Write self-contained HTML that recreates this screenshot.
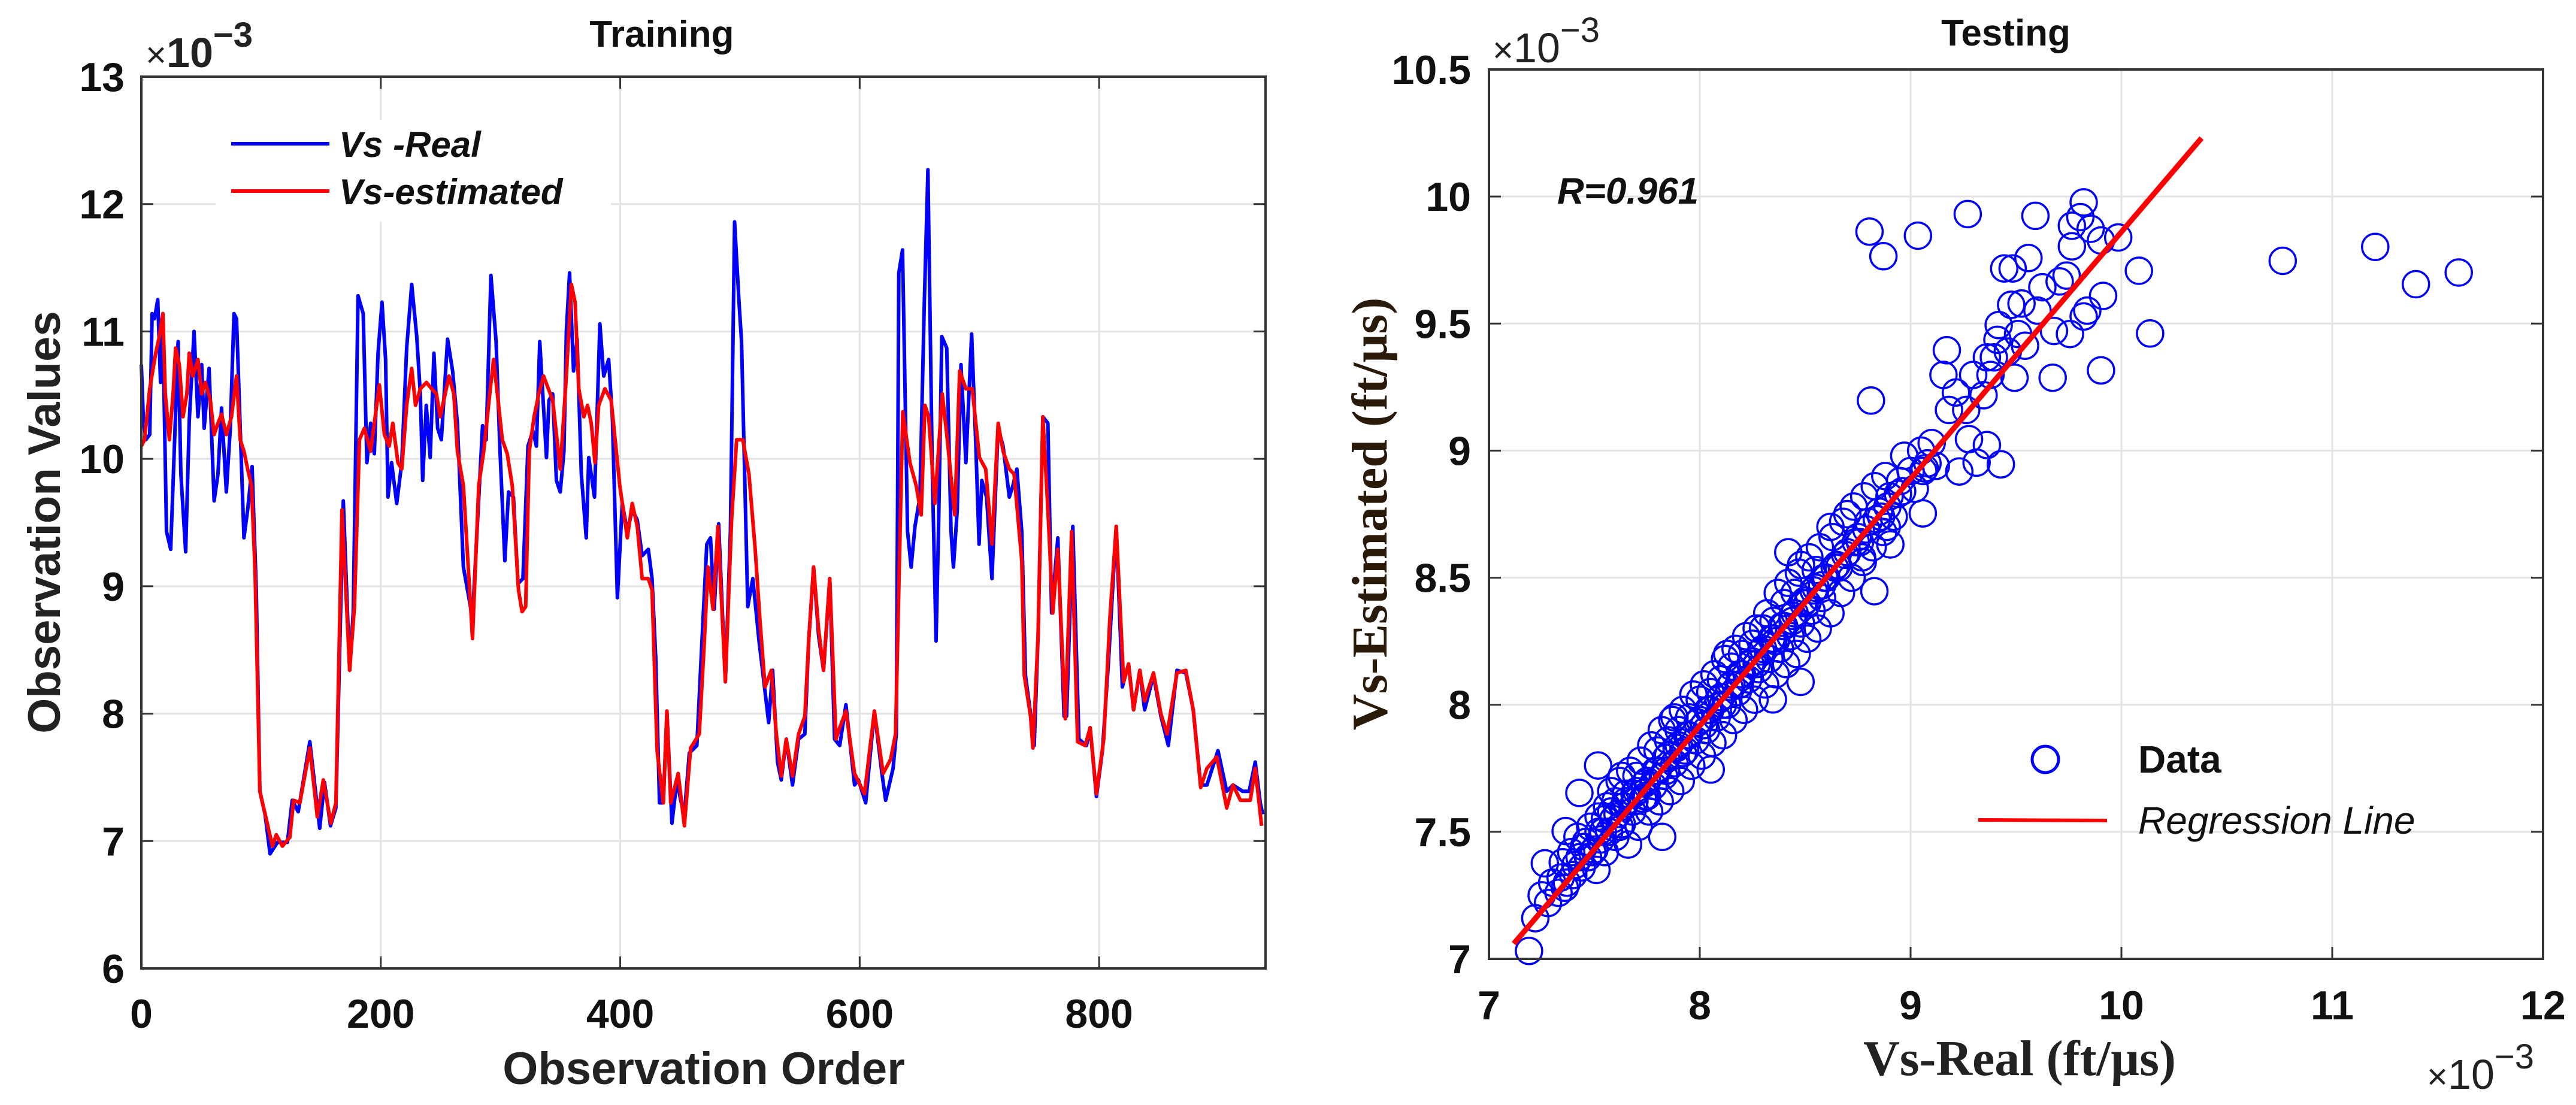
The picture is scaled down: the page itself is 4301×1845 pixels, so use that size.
<!DOCTYPE html>
<html><head><meta charset="utf-8">
<style>
html,body{margin:0;padding:0;background:#fff;}
svg{display:block;font-family:"Liberation Sans",Arial,sans-serif;}
</style></head>
<body>
<svg id="fig" width="4301" height="1845" viewBox="0 0 4301 1845" xmlns="http://www.w3.org/2000/svg">
  <rect width="4301" height="1845" fill="#fff"/>
  <g id="left"></g>
  <g id="right"></g>
</svg>
<script>
// ---------- Training chart data ----------
const realIdx = [0,1.6,3.7,7,9,11,13.7,16,18,21,24.5,27.6,30.7,33,37,40,44,47.3,50.4,52.5,56.6,60.8,64,67,71,74.3,77.4,79.5,82.6,85.7,88.8,92.5,96,99,103.3,107.5,113.7,122,126,131,140.7,149,153,158,162.5,168.7,174,177,181,185.3,188.4,191.5,194.6,197.7,201,204,206,209,213.3,217.5,221.6,225.8,230,233,235,238,241.3,244.4,247.5,250.6,255.8,260,264,269,276.6,285,288,292,296.3,299.4,303.6,306.7,310.8,314.6,318.7,322.9,327,330,332.8,335.3,338.4,340.5,343.6,346.7,349.9,353,355,357.7,361,364,367.5,371.6,373.7,378.5,383,386.2,390.3,393.4,397.6,401.7,405.9,410,414.2,418.3,423.5,426.6,429.7,432.8,436,439,443.2,447.4,450.5,453.6,457.7,464,468,472.3,475.4,478.5,482.2,487.8,492,495.5,499.2,501.3,506.5,510.7,515.9,520,524,527.3,531.4,534.5,538.7,543.9,549,554.2,557.4,561.5,565.7,569.8,575,579,583.3,588.5,595.7,598.9,605,612.3,618.6,621.7,627.9,630.6,632.7,635.8,640,643,646.2,650.3,654,657,660.7,663.8,666,668.6,672.7,676.3,678.3,681.5,684.6,688.7,693.5,697,699.7,702,706,710.5,715.7,719.8,725,728,731.3,735.4,738.5,743.7,745.8,749,753,757.2,760.3,765.5,770.7,772.8,778,783.1,789.4,792.5,797.7,802.8,808,814.3,819.4,824.6,828.8,834,838,845.4,851.6,857.8,865,872.4,878.6,884.8,890,899.3,906.6,911.8,920,925.3,930.4,934.6,936.7];
const realVal = [10.74,10.33,10.15,10.19,11.14,11.1,11.25,10.6,11.0,9.43,9.29,10.1,10.92,9.88,9.27,10.3,11.0,10.33,10.74,10.24,10.71,9.67,9.88,10.4,9.74,10.24,11.14,11.1,10.24,9.38,9.6,9.94,8.97,7.39,7.21,6.9,6.99,6.99,7.32,7.23,7.78,7.1,7.46,7.12,7.26,9.67,8.34,8.8,11.28,11.14,9.97,10.28,10.04,10.83,11.23,10.78,9.7,9.97,9.65,9.97,10.87,11.37,10.96,10.51,9.83,10.42,10.01,10.83,10.24,10.15,10.94,10.69,10.28,9.15,8.75,10.26,10.15,11.44,10.92,10.1,9.2,9.74,9.7,9.02,9.06,10.1,10.22,10.1,10.92,10.51,10.01,10.46,10.51,9.83,9.74,10.06,11.0,11.46,10.69,10.94,9.88,9.38,10.01,9.7,11.06,10.65,10.78,10.33,8.91,9.65,9.43,9.6,9.52,9.24,9.29,9.06,8.43,7.3,7.3,8.02,7.14,7.48,7.32,7.21,7.69,7.75,8.52,9.33,9.38,8.82,9.49,8.25,9.43,11.86,11.23,10.92,8.84,9.06,8.57,8.25,7.93,8.34,7.62,7.48,7.8,7.44,7.8,7.84,8.57,9.15,8.61,8.34,9.06,7.8,7.75,8.07,7.44,7.48,7.3,8.02,7.53,7.32,7.57,7.84,11.46,11.64,9.43,9.15,9.47,9.7,11.23,12.27,9.88,8.57,9.52,10.96,10.87,9.43,9.15,9.6,10.74,9.97,10.98,10.1,9.33,9.83,9.7,9.06,10.24,10.1,9.7,9.79,9.92,9.43,8.3,7.93,7.75,8.61,10.33,10.28,8.79,9.38,7.98,7.98,9.47,7.8,7.75,7.89,7.35,7.71,8.43,9.47,8.21,8.39,8.03,8.34,8.03,8.3,7.98,7.75,8.34,8.32,8.03,7.44,7.44,7.71,7.39,7.44,7.39,7.39,7.62,7.3,7.21];
const estIdx = [0,2.7,7,12,15,18,20,23.4,26.5,28.6,31.7,34.8,38,40,43,47.3,50.4,53.5,57.7,60.8,64,67,71,75.3,79.5,82.6,85.7,88.8,92,95,99,104.4,109.5,112.7,117.8,124,127.2,132.4,140.7,147,152,158.3,162.5,167.6,174,178,182.2,186.3,191.5,198.8,203,207,210,214.3,217.5,221.6,225.8,229,233,238.2,242.4,246.5,249.6,253.8,257,261,264,269,276.6,281.8,286,291,294.2,298.4,301.5,305.6,309.8,315,318,321,324,328,332,336,343.6,349.9,355,359.2,362.3,365.4,369.6,372.7,375.8,378.9,382,387.2,392.4,399.6,405.9,410,414.2,418.3,423.5,426.6,430.8,436,439,442.2,448.4,453.6,458.8,466,470,473.3,477.5,481.6,487.8,493,497.2,502.4,507.5,512.7,516.9,521,526.2,530.4,534.5,538.7,543.9,549,554.2,557.4,561.5,565.7,569.8,575,580.2,583.3,588.5,595.7,604,612.3,619.6,625.8,630,636,642,647.2,651.4,654.5,657.6,662.8,669,673.2,679.4,683.5,688.7,694,700,705.3,710.5,715.7,719.8,725,729,735.4,737.5,742.7,744.7,749,753,757.2,761.3,765.5,771.7,777,782,788.3,792.5,797.7,803.9,809,814.3,820.5,824.6,828.8,834,838,845.4,851.6,856.8,865,872.4,878.6,884.8,890,898.3,906.6,911.8,918,926.3,930.4,935.7];
const estVal = [10.1,10.15,10.55,10.83,10.96,11.14,10.51,10.15,10.51,10.87,10.74,10.33,10.51,10.83,10.65,10.78,10.51,10.6,10.46,10.19,10.28,10.35,10.19,10.33,10.65,10.15,10.06,9.92,9.79,9.11,7.39,7.17,6.96,7.05,6.96,7.03,7.32,7.3,7.73,7.19,7.48,7.14,7.3,9.6,8.34,8.84,10.15,10.24,10.06,10.58,10.19,10.1,10.28,9.97,9.92,10.42,10.71,10.42,10.55,10.6,10.55,10.51,10.33,10.51,10.65,10.51,10.06,9.79,8.59,9.79,10.06,10.51,10.78,10.42,10.15,10.04,9.79,8.97,8.8,8.84,10.06,10.33,10.51,10.65,10.46,9.92,10.65,11.37,11.23,10.55,10.33,10.42,10.28,9.97,10.42,10.55,10.46,9.79,9.38,9.65,9.47,9.06,9.06,8.97,7.71,7.3,8.02,7.3,7.53,7.12,7.73,7.84,8.52,9.15,8.82,9.47,8.25,9.52,10.15,10.15,9.88,9.29,8.71,8.21,8.34,7.84,7.51,7.8,7.51,7.84,7.98,8.57,9.15,8.66,8.34,9.06,7.8,7.89,8.02,7.53,7.37,8.02,7.53,7.64,7.84,10.37,9.97,9.79,9.56,10.42,10.33,9.65,10.51,10.15,9.56,10.69,10.55,10.55,10.01,9.92,9.33,10.28,10.06,9.92,9.88,9.2,8.3,7.98,7.73,8.61,10.33,9.6,8.79,9.29,7.96,9.43,7.78,7.75,7.89,7.37,7.8,8.75,9.47,8.25,8.39,8.03,8.34,8.1,8.32,8.0,7.84,8.32,8.34,8.03,7.42,7.57,7.66,7.26,7.44,7.32,7.32,7.57,7.12];
const leftXTicks = [0,200,400,600,800];
const leftYTicks = [6,7,8,9,10,11,12,13];

// ---------- Testing chart data ----------
const scatX = [8.805,8.871,9.035,9.271,9.592,9.821,9.765,9.805,9.854,9.765,9.903,9.985,10.083,10.765,11.204,11.397,11.6,10.136,9.903,9.674,9.493,8.812,9.172,9.156,9.297,9.379,9.395,9.412,9.418,9.444,9.484,9.559,9.477,9.526,9.602,9.625,9.707,9.74,9.68,9.756,9.821,9.838,9.913,9.51,9.543,9.461,9.362,9.182,9.264,9.215,9.346,9.277,9.362,9.428,9.313,9.231,9.067,9.058,8.904,8.887,8.828,8.773,8.478,8.347,8.052,7.822,7.429,7.518,7.265,7.364,7.19,
7.22,7.25,7.28,7.30,7.33,7.35,7.37,7.39,7.40,7.42,7.44,7.45,7.47,7.48,7.50,7.51,7.52,7.53,7.55,7.56,7.57,7.58,7.60,7.61,7.62,7.63,7.65,7.66,7.67,7.68,7.70,7.71,7.72,7.73,7.75,7.76,7.77,7.78,7.80,7.81,7.82,7.83,7.85,7.86,7.87,7.88,7.90,7.91,7.92,7.93,7.95,7.96,7.97,7.98,8.00,8.01,8.02,8.03,8.05,8.06,8.07,8.08,8.10,8.11,8.12,8.13,8.15,8.16,8.17,8.18,8.20,8.21,8.22,8.23,8.25,8.26,8.27,8.28,8.30,8.31,8.32,8.33,8.35,8.36,8.37,8.38,8.40,8.41,8.42,8.43,8.45,8.46,8.47,8.48,8.50,8.51,8.52,8.53,8.55,8.56,8.57,8.58,8.60,8.62,8.63,8.65,8.67,8.68,8.70,8.72,8.73,8.75,8.77,8.78,8.80,8.82,8.83,8.85,8.87,8.88,8.90,8.92,8.95,8.97,9.00,9.02,9.05,9.08,9.10,9.12,
7.55,7.65,7.75,7.85,7.95,8.05,8.15,8.25,8.35,8.45,8.55,8.2,8.3,8.4,8.1,7.9,7.7,8.48,8.42,8.62,8.7,7.6,7.8,8.0,7.52,7.58,
7.34,7.41,7.46,7.54,7.59,7.64,7.69,7.74,7.79,7.84,7.89,7.94,7.99,8.04,8.09,8.14,8.19,8.24,8.29,8.34,8.39,8.44,8.49,8.54,8.59,8.64,8.69,8.74,8.79,8.84,8.89,8.94,7.36,7.43,7.49,7.57,7.62,7.69,7.74,7.84,7.92,8.02,8.11,8.19,8.27,8.36,8.44,8.51,8.58,8.66,8.76,8.86,8.96,9.06,7.63,7.88,8.13];
const scatY = [9.862,9.765,9.846,9.931,9.924,9.977,9.885,9.919,9.873,9.804,9.827,9.839,9.708,9.747,9.802,9.655,9.701,9.461,9.316,9.287,9.287,9.197,9.395,9.298,9.298,9.298,9.367,9.436,9.494,9.717,9.717,9.758,9.574,9.579,9.551,9.643,9.666,9.689,9.471,9.459,9.528,9.551,9.609,9.459,9.413,9.39,9.367,9.16,9.16,9.229,9.218,9.045,9.022,8.946,8.953,8.918,8.93,8.753,8.631,8.7,8.447,8.562,8.09,8.021,7.745,7.48,7.653,7.761,7.376,7.503,7.031,
7.16,7.25,7.22,7.30,7.26,7.38,7.30,7.42,7.33,7.48,7.36,7.44,7.40,7.52,7.43,7.35,7.56,7.47,7.42,7.60,7.50,7.66,7.48,7.57,7.70,7.53,7.62,7.45,7.74,7.58,7.66,7.52,7.78,7.63,7.70,7.58,7.84,7.68,7.74,7.62,7.90,7.72,7.80,7.66,7.94,7.77,7.84,7.70,7.98,7.82,7.88,7.76,8.04,7.86,7.94,7.80,8.08,7.90,7.98,7.85,8.12,7.95,8.03,7.88,8.18,8.00,8.08,7.94,8.22,8.05,8.12,7.98,8.27,8.10,8.17,8.02,8.30,8.14,8.22,8.08,8.36,8.18,8.26,8.12,8.44,8.22,8.31,8.16,8.48,8.27,8.36,8.20,8.52,8.32,8.41,8.26,8.58,8.37,8.46,8.30,8.62,8.42,8.50,8.36,8.66,8.55,8.44,8.72,8.60,8.50,8.78,8.66,8.58,8.82,8.72,8.62,8.86,8.76,8.68,8.90,8.82,8.74,8.88,8.98,8.92,8.85,9.00,8.95,9.03,8.94,
7.55,7.65,7.64,7.86,7.95,8.05,8.15,8.24,8.33,8.44,8.53,8.2,8.3,8.4,8.1,7.9,7.72,8.55,8.6,8.7,8.75,7.62,7.82,8.02,7.5,7.58,
7.32,7.37,7.46,7.50,7.55,7.60,7.65,7.69,7.74,7.79,7.83,7.88,7.93,7.98,8.02,8.07,8.12,8.16,8.21,8.26,8.31,8.35,8.40,8.45,8.50,8.54,8.59,8.64,8.69,8.73,8.78,8.83,7.28,7.40,7.42,7.50,7.52,7.62,7.64,7.74,7.81,7.92,8.00,8.08,8.16,8.25,8.33,8.40,8.47,8.54,8.64,8.74,8.84,8.92,7.72,7.95,8.20];
const regX = [7.118,10.38];
const regY = [7.06,10.23];
const rightXTicks = [7,8,9,10,11,12];
const rightYTicks = [7,7.5,8,8.5,9,9.5,10,10.5];

const NS = "http://www.w3.org/2000/svg";
function mk(parent, tag, attrs, text){
  const e = document.createElementNS(NS, tag);
  for (const k in attrs) e.setAttribute(k, attrs[k]);
  if (text !== undefined) e.textContent = text;
  parent.appendChild(e);
  return e;
}

// ====== LEFT ======
const L = document.getElementById('left');
const lx0 = 236, lx1 = 2113, ly0 = 128, ly1 = 1617;
const lxMin = 0, lxMax = 939, lyMin = 6, lyMax = 13;
const lX = v => lx0 + (v - lxMin) / (lxMax - lxMin) * (lx1 - lx0);
const lY = v => ly1 - (v - lyMin) / (lyMax - lyMin) * (ly1 - ly0);

leftYTicks.forEach(t => {
  const g = mk(L, 'line', {x1:lx0, x2:lx1, y1:lY(t), y2:lY(t), stroke:'#e3e3e3', 'stroke-width':3});
  
  
  const tk = mk(L, 'line', {x1:lx0, x2:lx0+20, y1:lY(t), y2:lY(t), stroke:'#333', 'stroke-width':3});
  
  
  const tk2 = mk(L, 'line', {x1:lx1-20, x2:lx1, y1:lY(t), y2:lY(t), stroke:'#333', 'stroke-width':3});
  
  
  const lb = mk(L, 'text', {x:208, y:lY(t)+24, 'text-anchor':'end', 'font-size':68, 'font-weight':'bold', fill:'#111'}, String(t));
  
  
});
leftXTicks.forEach(t => {
  const g = mk(L, 'line', {x1:lX(t), x2:lX(t), y1:ly0, y2:ly1, stroke:'#e3e3e3', 'stroke-width':3});
  
  
  const tk = mk(L, 'line', {x1:lX(t), x2:lX(t), y1:ly1-20, y2:ly1, stroke:'#333', 'stroke-width':3});
  
  
  const tk2 = mk(L, 'line', {x1:lX(t), x2:lX(t), y1:ly0, y2:ly0+20, stroke:'#333', 'stroke-width':3});
  
  
  const lb = mk(L, 'text', {x:lX(t), y:1716, 'text-anchor':'middle', 'font-size':68, 'font-weight':'bold', fill:'#111'}, String(t));
  
  
});

function linePath(xs, ys, fx, fy){
  return xs.map((v,i) => (i? 'L':'M') + fx(v).toFixed(1) + ' ' + fy(ys[i]).toFixed(1)).join(' ');
}
const bl = mk(L, 'path', {d:linePath(realIdx, realVal, lX, lY), fill:'none', stroke:'#0000ff', 'stroke-width':6, 'stroke-linejoin':'round'});


const rl = mk(L, 'path', {d:linePath(estIdx, estVal, lX, lY), fill:'none', stroke:'#ff0000', 'stroke-width':6, 'stroke-linejoin':'round'});



const lbox = mk(L, 'rect', {x:lx0, y:ly0, width:lx1-lx0, height:ly1-ly0, fill:'none', stroke:'#333', 'stroke-width':4});



// legend
const lg = mk(L, 'g', {});


const lgb = mk(lg, 'rect', {x:360, y:200, width:660, height:170, fill:'#fff'});


const le1 = mk(lg, 'line', {x1:386, x2:550, y1:240, y2:240, stroke:'#0000ff', 'stroke-width':6});


const lt1 = mk(lg, 'text', {x:566, y:262, 'font-size':60, 'font-weight':'bold', 'font-style':'italic', fill:'#111'}, 'Vs -Real');


const le2 = mk(lg, 'line', {x1:386, x2:550, y1:319, y2:319, stroke:'#ff0000', 'stroke-width':6});


const lt2 = mk(lg, 'text', {x:566, y:341, 'font-size':60, 'font-weight':'bold', 'font-style':'italic', fill:'#111'}, 'Vs-estimated');



const lt = mk(L, 'text', {x:1105, y:78, 'text-anchor':'middle', 'font-size':62, 'font-weight':'bold', fill:'#111'}, 'Training');


const lxl = mk(L, 'text', {x:1175, y:1810, 'text-anchor':'middle', 'font-size':76, 'font-weight':'bold', fill:'#222'}, 'Observation Order');


const lyl = mk(L, 'text', {x:0, y:0, 'text-anchor':'middle', 'font-size':76, 'font-weight':'bold', fill:'#222', transform:'translate(100,872) rotate(-90)'}, 'Observation Values');


const lexp = mk(L, 'text', {x:243, y:112, 'font-size':70, fill:'#222'});


lexp.innerHTML = '<tspan font-size="60">×</tspan><tspan font-weight="bold">10</tspan><tspan dy="-34" font-weight="bold" font-size="58">−3</tspan>';

// ====== RIGHT ======
const R = document.getElementById('right');
const rx0 = 2486, rx1 = 4246, ry0 = 116, ry1 = 1601;
const rX = v => rx0 + (v - 7) / (12 - 7) * (rx1 - rx0);
const rY = v => ry1 - (v - 7) / (10.5 - 7) * (ry1 - ry0);

rightYTicks.forEach(t => {
  const g = mk(R, 'line', {x1:rx0, x2:rx1, y1:rY(t), y2:rY(t), stroke:'#e3e3e3', 'stroke-width':3});
  
  
  const tk = mk(R, 'line', {x1:rx0, x2:rx0+20, y1:rY(t), y2:rY(t), stroke:'#333', 'stroke-width':3});
  
  
  const tk2 = mk(R, 'line', {x1:rx1-20, x2:rx1, y1:rY(t), y2:rY(t), stroke:'#333', 'stroke-width':3});
  
  
  const lb = mk(R, 'text', {x:2456, y:rY(t)+24, 'text-anchor':'end', 'font-size':68, 'font-weight':'bold', fill:'#111'}, String(t));
  
  
});
rightXTicks.forEach(t => {
  const g = mk(R, 'line', {x1:rX(t), x2:rX(t), y1:ry0, y2:ry1, stroke:'#e3e3e3', 'stroke-width':3});
  
  
  const tk = mk(R, 'line', {x1:rX(t), x2:rX(t), y1:ry1-20, y2:ry1, stroke:'#333', 'stroke-width':3});
  
  
  const lb = mk(R, 'text', {x:rX(t), y:1702, 'text-anchor':'middle', 'font-size':68, 'font-weight':'bold', fill:'#111'}, String(t));
  
  
});

const pts = mk(R, 'g', {fill:'none', stroke:'#0000ff', 'stroke-width':3.5});


scatX.forEach((v,i) => {
  const c = mk(pts, 'circle', {cx:rX(v).toFixed(1), cy:rY(scatY[i]).toFixed(1), r:22});
  
  
});
const reg = mk(R, 'line', {x1:rX(regX[0]), y1:rY(regY[0]), x2:rX(regX[1]), y2:rY(regY[1]), stroke:'#ff0000', 'stroke-width':9});



const rbox = mk(R, 'rect', {x:rx0, y:ry0, width:rx1-rx0, height:ry1-ry0, fill:'none', stroke:'#333', 'stroke-width':4});



const rlab = mk(R, 'text', {x:2600, y:340, 'font-size':62, 'font-weight':'bold', 'font-style':'italic', fill:'#111'}, 'R=0.961');



const rg = mk(R, 'g', {});


const rc = mk(rg, 'circle', {cx:3415, cy:1268, r:22, fill:'none', stroke:'#0000ff', 'stroke-width':5});


const rt1 = mk(rg, 'text', {x:3570, y:1290, 'font-size':64, 'font-weight':'bold', fill:'#111'}, 'Data');


const rl2 = mk(rg, 'line', {x1:3303, x2:3518, y1:1369, y2:1370, stroke:'#ff0000', 'stroke-width':6});


const rt2 = mk(rg, 'text', {x:3570, y:1392, 'font-size':64, 'font-style':'italic', fill:'#111'}, 'Regression Line');



const rtt = mk(R, 'text', {x:3349, y:76, 'text-anchor':'middle', 'font-size':62, 'font-weight':'bold', fill:'#111'}, 'Testing');


const rxl = mk(R, 'text', {x:3372, y:1795, 'text-anchor':'middle', 'font-size':84, 'font-weight':'bold', 'font-family':'"Liberation Serif",serif', fill:'#222'}, 'Vs-Real (ft/µs)');


const ryl = mk(R, 'text', {x:0, y:0, 'text-anchor':'middle', 'font-size':84, 'font-weight':'bold', 'font-family':'"Liberation Serif",serif', fill:'#2a1a0a', transform:'translate(2315,858) rotate(-90)'}, 'Vs-Estimated (ft/µs)');


const rexp1 = mk(R, 'text', {x:2492, y:104, 'font-size':70, fill:'#222'});


rexp1.innerHTML = '<tspan font-size="60">×</tspan><tspan>10</tspan><tspan dy="-34" font-size="58">−3</tspan>';
const rexp2 = mk(R, 'text', {x:4052, y:1818, 'font-size':70, fill:'#222'});


rexp2.innerHTML = '<tspan font-size="60">×</tspan><tspan>10</tspan><tspan dy="-34" font-size="58">−3</tspan>';
</script>
</body></html>
